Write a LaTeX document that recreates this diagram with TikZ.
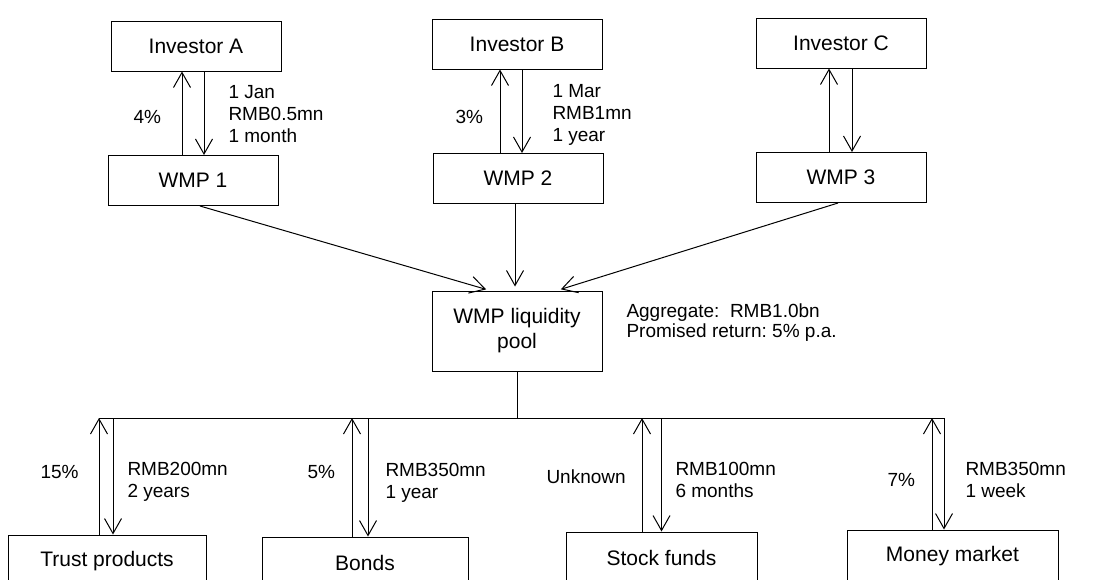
\documentclass[tikz,border=0pt]{standalone}
\usepackage{fontspec}
\setmainfont{Liberation Sans}
\usetikzlibrary{arrows.meta,calc}

\begin{document}
\begin{tikzpicture}
  [x=0.5pt,y=-0.5pt,line width=0.5pt,
   box/.style={draw,rectangle,minimum width=85pt,minimum height=25pt,inner sep=0pt,
     align=center,font=\fontsize{10.5}{12.5}\selectfont},
   lbl/.style={anchor=west,align=left,inner sep=0pt,font=\fontsize{9.5}{11}\selectfont},
   arr/.style={-{Straight Barb[length=7.5pt,width=8.5pt]}}]
  \clip (0,0) rectangle (1096,579);

  \node[box] (invA) at (196,46)  {Investor A};
  \node[box] (invB) at (517,44)  {Investor B};
  \node[box] (invC) at (841,43)  {Investor C};
  \node[box] (wmp1) at (193,180.5) {WMP 1};
  \node[box] (wmp2) at (518,178.5) {WMP 2};
  \node[box] (wmp3) at (841,177.5) {WMP 3};
  \node[box,minimum height=40pt] (pool) at (517,331) {WMP liquidity\\pool};
  \node[box,minimum width=99pt,minimum height=26pt]    (trust) at (107,561)   {Trust products};
  \node[box,minimum width=103pt,minimum height=26pt]   (bonds) at (365,563)   {Bonds};
  \node[box,minimum width=95.5pt,minimum height=26pt]  (stock) at (661.5,558) {Stock funds};
  \node[box,minimum width=105.5pt,minimum height=26pt] (money) at (952.5,556) {Money market};
  \coordinate (bus) at (517,418);

  % investors and their products
  \foreach \lo/\hi/\u/\d in {wmp1/invA/-11/11,wmp2/invB/-18/4,wmp3/invC/-12/11}
  {
    \draw[arr] ([xshift=\u*0.5pt]\lo.north) -- ([xshift=\u*0.5pt]\lo.north |- \hi.south);
    \draw[arr] ([xshift=\d*0.5pt]\lo.north |- \hi.south) -- ([xshift=\d*0.5pt]\lo.north);
  }
  \node[lbl] (rA) at (133,117) {4\%};
  \node[lbl] (tA) at (228,114) {1 Jan\\RMB0.5mn\\1 month};
  \node[lbl] (rB) at (455,117) {3\%};
  \node[lbl] (tB) at (552,115) {1 Mar\\RMB1mn\\1 year};

  % into the pool
  \draw[arr,shorten >=2pt] ([xshift=3.5pt]wmp1.south) -- ([xshift=-13.5pt]pool.north);
  \draw[arr,shorten >=2pt] ([xshift=-1.5pt]wmp2.south) -- ([xshift=-1pt]pool.north);
  \draw[arr,shorten >=2pt] ([xshift=-1.5pt]wmp3.south) -- ([xshift=20pt]pool.north);
  \node[lbl,font=\fontsize{9.5}{10}\selectfont] (agg) at (626,323)
    {Aggregate:\ \ RMB1.0bn\\Promised return:\ 5\% p.a.};

  % out to the assets
  \draw (pool.south) -- (bus);
  \draw ([xshift=-4pt]trust.north |- bus) -- ([xshift=-4.25pt]money.north |- bus);
  \foreach \lo/\u/\d in {trust/-8/6,bonds/-13/3,stock/-19.5/0,money/-20.5/-8.5}
  {
    \draw[arr] ([xshift=\u*0.5pt]\lo.north) -- ([xshift=\u*0.5pt]\lo.north |- bus);
    \draw[arr] ([xshift=\d*0.5pt]\lo.north |- bus) -- ([xshift=\d*0.5pt]\lo.north);
  }
  \node[lbl] (r1) at (40,472)  {15\%};
  \node[lbl] (t1) at (127,482) {RMB200mn\\2 years};
  \node[lbl] (r2) at (307,472) {5\%};
  \node[lbl] (t2) at (385,483) {RMB350mn\\1 year};
  \node[lbl] (r3) at (546,477) {Unknown};
  \node[lbl] (t3) at (675,480) {RMB100mn\\6 months};
  \node[lbl] (r4) at (887,480) {7\%};
  \node[lbl] (t4) at (965,480) {RMB350mn\\1 week};
\end{tikzpicture}
\end{document}
